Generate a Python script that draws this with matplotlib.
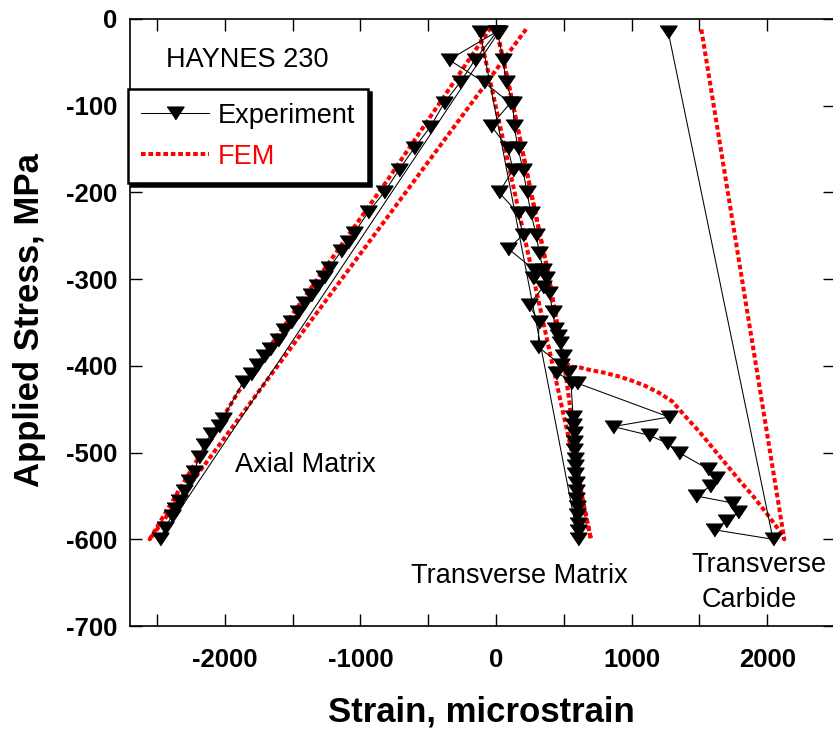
import matplotlib
matplotlib.use("Agg")
import matplotlib.pyplot as plt
from matplotlib.ticker import MultipleLocator, FixedLocator

plt.rcParams['font.family'] = ['Liberation Sans', 'DejaVu Sans']
plt.rcParams['axes.unicode_minus'] = False

# ---------------- data (strain in microstrain, stress in MPa) ----------------
axial_exp_strain = [5, -155, -265, -383, -487, -605, -715, -826, -944, -1047, -1091, -1143,
                    -1231, -1268, -1320, -1364, -1416, -1460, -1512, -1563, -1607, -1667,
                    -1711, -1763, -1807, -1866, -2016, -2043, -2104, -2153, -2190, -2229,
                    -2265, -2304, -2340, -2370, -2391, -2441, -2478, 20]
axial_exp_stress = [-15, -47, -73, -97, -125, -149, -174, -200, -223, -247, -257, -268,
                    -287, -297, -308, -318, -328, -338, -349, -359, -370, -380,
                    -389, -399, -409, -419, -461, -469, -479, -491, -505, -522,
                    -533, -544, -556, -565, -573, -587, -600, -15]

trans_exp_strain = [10, 52, 74, 125, 133, 162, 199, 228, 258, 295, 320, 347, 369, 391, 420,
                    435, 457, 472, 494, 531, 553, 568, 571, 574, 576, 578, 580, 582, 584,
                    587, 590, 593, 596, 599, 601, 603, 605, -118]
trans_exp_stress = [-15, -47, -73, -97, -123, -149, -174, -200, -224, -249, -270, -289, -299,
                    -316, -338, -357, -366, -374, -389, -407, -420, -459, -468, -478, -488,
                    -497, -507, -516, -525, -535, -544, -553, -563, -572, -582, -591, -600, -15]

carb_exp_strain = [0, -347, -88, 105, -37, 88, 125, 22, 162, 199, 90, 280, 273, 347, 243, 317,
                   310, 479, 442, 600, 1276, 863, 1128, 1261, 1350, 1563, 1622, 1578, 1475,
                   1740, 1785, 1696, 1608, 2043, 1270]
carb_exp_stress = [-15, -47, -73, -97, -123, -149, -174, -200, -224, -249, -265, -289, -299,
                   -309, -330, -349, -378, -399, -408, -420, -459, -470, -480, -489, -500,
                   -519, -529, -539, -550, -558, -569, -579, -589, -600, -15]

axial_fem_strain = [-40, -802, -1500, -1905, -2230, -2555, 230]
axial_fem_stress = [-10, -186, -340, -431, -515, -600, -10]

trans_fem_strain = [0, 90, 270, 380, 460, 500, 540, 580, 640, 700, -130]
trans_fem_stress = [-10, -73, -209, -290, -360, -395, -440, -500, -555, -600, -10]

carb_fem_strain = [0, 90, 270, 380, 460, 500, 553, 620, 700, 800, 900, 1000, 1100, 1200,
                   1300, 1400, 1500, 1600, 1700, 1800, 1900, 2000, 2080, 2126, 1512]
carb_fem_stress = [-10, -73, -209, -290, -360, -395, -401, -402, -405, -408, -412, -417,
                   -423, -431, -441, -459, -476, -495, -514, -533, -551, -571, -588, -600, -10]

x_ticks = [-2000, -1000, 0, 1000, 2000]
y_ticks = [0, -100, -200, -300, -400, -500, -600, -700]

# ---------------- figure ----------------
W, H = 833, 736
fig = plt.figure(figsize=(W / 100, H / 100), dpi=100)
ax = fig.add_axes([130 / W, 1 - 626 / H, 705 / W, 607 / H])

tri = [(-1, 0.75), (1, 0.75), (0, -0.75)]
exp_kw = dict(color='black', lw=0.75, marker=tri, ms=12.2, mfc='black', mec='black')
fem_kw = dict(color='red', lw=2.9, linestyle=(0, (1.15, 0.7)))

ax.plot(axial_fem_strain, axial_fem_stress, **fem_kw)
ax.plot(trans_fem_strain, trans_fem_stress, **fem_kw)
fem_line, = ax.plot(carb_fem_strain, carb_fem_stress, **fem_kw)

exp_line, = ax.plot(axial_exp_strain, axial_exp_stress, **exp_kw)
ax.plot(trans_exp_strain, trans_exp_stress, **exp_kw)
ax.plot(carb_exp_strain, carb_exp_stress, **exp_kw)

ax.set_xlim(-2700, 2500)
ax.set_ylim(-700, 0)
ax.xaxis.set_major_locator(FixedLocator(x_ticks))
ax.xaxis.set_minor_locator(MultipleLocator(500))
ax.yaxis.set_major_locator(FixedLocator(y_ticks))
ax.set_xticklabels([str(v) for v in x_ticks])
ax.set_yticklabels([str(v) for v in y_ticks])
ax.tick_params(axis='x', which='both', direction='in', top=True, length=8.5, width=1,
               pad=16)
ax.tick_params(axis='y', which='both', direction='in', right=True, length=8.5, width=1,
               pad=9)
for lab in ax.get_xticklabels() + ax.get_yticklabels():
    lab.set_fontsize(18.5)
    lab.set_fontweight('bold')
for sp in ax.spines.values():
    sp.set_linewidth(1.2)

ax.set_xlabel('Strain, microstrain', fontsize=25, fontweight='bold')
ax.set_ylabel('Applied Stress, MPa', fontsize=25, fontweight='bold')
ax.xaxis.set_label_coords(0.498, -0.142)
ax.yaxis.set_label_coords(-0.142, 0.504)
ax.xaxis.label.set_va('center')
ax.yaxis.label.set_va('center')

ax.text(-2434, -47, 'HAYNES 230', fontsize=19.5, va='center', ha='left')
ax.text(-1925, -514, 'Axial Matrix', fontsize=19.5, va='center', ha='left')
ax.text(-627, -642, 'Transverse Matrix', fontsize=19.5, va='center', ha='left')
ax.text(1440, -630, 'Transverse', fontsize=19.5, va='center', ha='left')
ax.text(1515, -670, 'Carbide', fontsize=19.5, va='center', ha='left')

leg = ax.legend([exp_line, fem_line], ['Experiment', 'FEM'],
                loc='upper left', bbox_to_anchor=(-0.003, 0.884), fontsize=19.5,
                frameon=True, fancybox=False, shadow={'color': 'black', 'alpha': 1},
                edgecolor='black', framealpha=1, handlelength=2.5, handletextpad=0.3,
                borderpad=0.5, labelspacing=0.55, borderaxespad=0,
                labelcolor=['black', 'red'])
leg.get_frame().set_linewidth(1.8)

fig.savefig('out.png', dpi=100)
